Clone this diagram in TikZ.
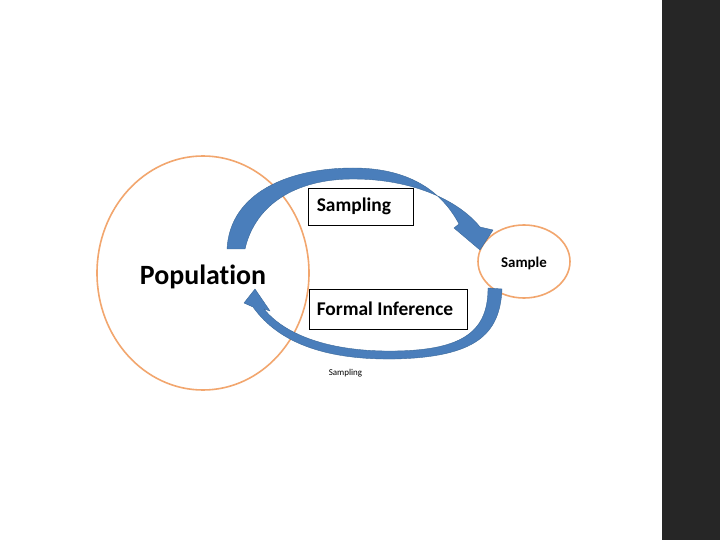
\documentclass[tikz,border=0pt]{standalone}
\usepackage{fontspec}
\setmainfont{Carlito}[Ligatures=NoCommon]
\usetikzlibrary{shapes.geometric}
\definecolor{ringc}{HTML}{F2A66E}
\definecolor{arrowc}{HTML}{4A7EBB}
\definecolor{arrowd}{HTML}{3A6899}
\definecolor{barc}{HTML}{262626}
\tikzset{
  ring/.style={draw=ringc, line width=1.6bp, ellipse, inner sep=0pt},
  labelbox/.style={draw=black, line width=0.8bp, fill=white, rectangle, inner sep=0pt},
  boxtext/.style={anchor=west, inner sep=0pt, font=\bfseries\fontsize{19.5}{22}\selectfont},
  bigarrow/.style={fill=arrowc, draw=arrowd, line width=0.4bp, line join=round}
}
\begin{document}
\begin{tikzpicture}[x=1bp, y=-1bp]
\useasboundingbox (0,0) rectangle (720,540);
\fill[white] (0,0) rectangle (720,540);
\fill[barc] (662,0) rectangle (720,540);

% ellipses
\node[ring, minimum width=212bp, minimum height=234bp] (pop) at (203,273) {};
\node[ring, minimum width=92bp, minimum height=73bp] (samp) at (524,261.5) {};

% top arrow (sampling)
\path[bigarrow]
  (227,249) .. controls (230,192) and (290,168) .. (353,168)
  .. controls (405,168) and (440,188) .. (459,224)
  -- (454,228) -- (480,250) -- (493,230) -- (480,227)
  .. controls (460,202) and (415,179) .. (353,179)
  .. controls (295,179) and (255,205) .. (245,249) -- cycle;

% bottom arrow (formal inference)
\path[bigarrow]
  (502,289) .. controls (500,335) and (475,357) .. (395,359)
  .. controls (330,360) and (280,345) .. (253,307)
  -- (244,303) -- (255,289) -- (270,311) -- (264,309)
  .. controls (285,335) and (330,352) .. (395,351)
  .. controls (465,350) and (488,330) .. (488,288) -- cycle;

% texts
\node[font=\bfseries\fontsize{28}{32}\selectfont, inner sep=0pt] (poptext) at (203,277) {Population};
\node[font=\bfseries\fontsize{15}{18}\selectfont, inner sep=0pt] (samptext) at (524,263) {Sample};
\node[labelbox, minimum width=105bp, minimum height=37bp] (sbox) at (360.5,206.5) {};
\node[boxtext] (stext) at ([xshift=9bp]sbox.west) {Sampling};
\node[labelbox, minimum width=158bp, minimum height=40bp] (fbox) at (388,309) {};
\node[boxtext] (ftext) at ([xshift=8bp]fbox.west) {Formal Inference};
\node[font=\fontsize{9}{11}\selectfont, inner sep=0pt] (small) at (345.5,373) {Sampling};
\end{tikzpicture}
\end{document}
